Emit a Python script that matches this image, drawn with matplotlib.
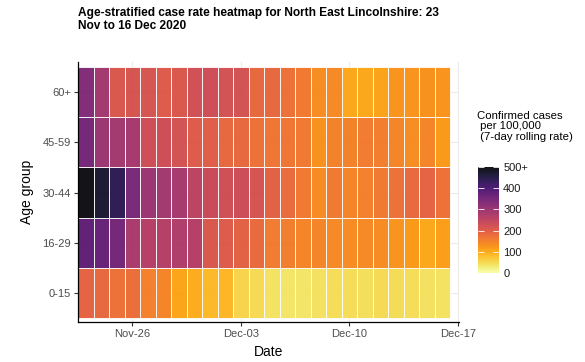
import numpy as np
import pandas as pd
import matplotlib
matplotlib.use('Agg')
import matplotlib.pyplot as plt
import matplotlib.dates as mdates
from matplotlib.colors import Normalize

plt.rcParams['font.family'] = ['Liberation Sans', 'DejaVu Sans']

# data: 7-day rolling case rate per 100,000 by age group
dates = pd.date_range('2020-11-23', '2020-12-16', freq='D')
age_groups = ['0-15', '16-29', '30-44', '45-59', '60+']

rate_0_15 = [190, 185, 170, 175, 152, 145, 108, 100, 85, 88, 55, 50,
             40, 38, 38, 42, 46, 46, 44, 50, 48, 45, 42, 40]
rate_16_29 = [375, 370, 350, 280, 265, 265, 272, 265, 210, 205, 195, 180,
              158, 155, 145, 145, 140, 138, 140, 138, 128, 120, 105, 115]
rate_30_44 = [560, 470, 440, 345, 300, 290, 285, 255, 235, 228, 232, 218,
              195, 178, 160, 138, 160, 145, 152, 160, 170, 180, 190, 170]
rate_45_59 = [350, 300, 290, 285, 230, 230, 220, 205, 200, 185, 185, 170,
              165, 165, 160, 130, 150, 150, 158, 155, 145, 135, 145, 120]
rate_60 = [335, 290, 210, 215, 215, 205, 210, 225, 230, 220, 220, 185,
           185, 170, 160, 135, 140, 105, 105, 110, 125, 125, 130, 125]

values = np.array([rate_0_15, rate_16_29, rate_30_44, rate_45_59, rate_60])
values = np.clip(values, 0, 500)

fig = plt.figure(figsize=(5.85, 3.62), dpi=100)
ax = fig.add_axes([78/585, 40/362, 381/585, 260/362])

x_edges = mdates.date2num(dates) - 0.5
x_edges = np.append(x_edges, x_edges[-1] + 1)
y_edges = np.arange(len(age_groups) + 1) + 0.5

norm = Normalize(0, 500)
mesh = ax.pcolormesh(x_edges, y_edges, values, cmap='inferno_r', norm=norm,
                     alpha=0.92, edgecolor=(1, 1, 1, 0.2), linewidth=0.5, zorder=2)

ax.set_xlim(x_edges[0], mdates.date2num(pd.Timestamp('2020-12-17')) + 0.08)
ax.set_ylim(0.42, 5.6)

ax.set_yticks(np.arange(1, len(age_groups) + 1))
ax.set_yticklabels(age_groups)
ax.xaxis.set_major_locator(mdates.DayLocator(bymonthday=[3, 10, 17, 26]))
ax.xaxis.set_major_formatter(mdates.DateFormatter('%b-%d'))

ax.grid(True, color='#ebebeb', linewidth=0.8, zorder=0)
ax.set_axisbelow(True)
for s in ['top', 'right']:
    ax.spines[s].set_visible(False)
for s in ['left', 'bottom']:
    ax.spines[s].set_linewidth(0.9)
ax.tick_params(length=3, width=0.8, color='#333333', labelsize=8,
               labelcolor='#4d4d4d', pad=2)

ax.set_xlabel('Date', fontsize=10, labelpad=4)
ax.set_ylabel('Age group', fontsize=10, labelpad=6)

fig.text(78/585, 1 - 7/362,
         'Age-stratified case rate heatmap for North East Lincolnshire: 23\nNov to 16 Dec 2020',
         fontsize=8.6, fontweight='bold', va='top', ha='left', linespacing=1.15)

cax = fig.add_axes([478/585, 89/362, 21/585, 106/362])
cb = fig.colorbar(mesh, cax=cax, ticks=[0, 100, 200, 300, 400, 500])
cb.solids.set_alpha(0.92)
cb.outline.set_visible(False)
cb.ax.set_yticklabels(['0', '100', '200', '300', '400', '500+'])
cb.ax.tick_params(length=4, width=0.6, color='white', direction='in',
                  left=True, labelsize=8, labelcolor='#1a1a1a', pad=3)
fig.text(477/585, 1 - 111/362, 'Confirmed cases\n per 100,000\n (7-day rolling rate)',
         fontsize=8.2, va='top', ha='left', linespacing=1.05)

fig.savefig('out.png', dpi=100)
